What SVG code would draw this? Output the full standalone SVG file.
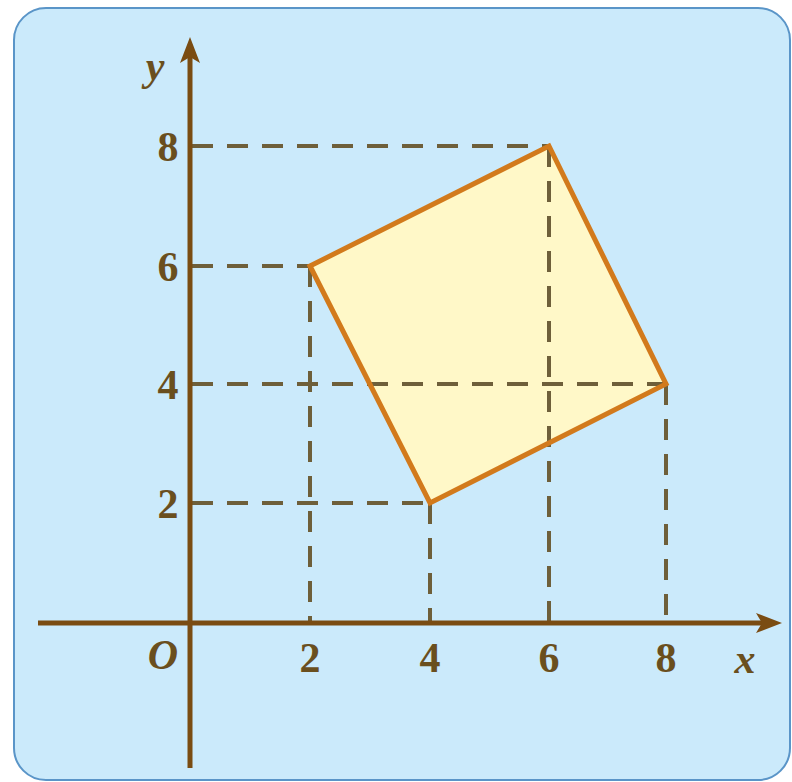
<svg xmlns="http://www.w3.org/2000/svg" width="792" height="782" viewBox="0 0 792 782">
<style>
.axis{stroke:#7a4c12;stroke-width:5;fill:none}
.dash{stroke:#6e5f3a;stroke-width:4;stroke-dasharray:21 14;fill:none}
.lbl{font-family:"Liberation Serif",serif;font-weight:bold;font-size:42px;fill:#6a4f1e;text-anchor:middle}
.it{font-family:"Liberation Serif",serif;font-style:italic;font-weight:bold;font-size:42px;fill:#6a4f1e;text-anchor:middle}
</style>
<rect x="0" y="0" width="792" height="782" fill="#ffffff"/>
<rect x="14" y="8" width="776" height="772" rx="32" fill="#cbeafb" stroke="#5a95c8" stroke-width="2"/>
<g id="square-fill">
<polygon points="310,266 549,146 666,384 430,503" fill="#fff8c8"/>
</g>
<g id="connectors">
<line class="dash" x1="192" y1="146" x2="549" y2="146"/>
<line class="dash" x1="192" y1="266" x2="310" y2="266"/>
<line class="dash" x1="192" y1="384" x2="666" y2="384"/>
<line class="dash" x1="192" y1="503" x2="430" y2="503"/>
<line class="dash" x1="310" y1="266" x2="310" y2="621"/>
<line class="dash" x1="430" y1="503" x2="430" y2="621"/>
<line class="dash" x1="549" y1="146" x2="549" y2="621"/>
<line class="dash" x1="666" y1="384" x2="666" y2="621"/>
</g>
<g id="square">
<polygon points="310,266 549,146 666,384 430,503" fill="none" stroke="#d27a1c" stroke-width="5" stroke-linejoin="miter"/>
</g>
<g id="x-axis">
<line class="axis" x1="38" y1="623" x2="765" y2="623"/>
<path d="M782,623 L756,613 L762,623 L756,633 Z" fill="#7a4c12"/>
</g>
<g id="y-axis">
<line class="axis" x1="190" y1="768" x2="190" y2="55"/>
<path d="M190,37 L180,63 L190,57 L200,63 Z" fill="#7a4c12"/>
</g>
<g id="labels">
<text class="it" x="155" y="80">y</text>
<text class="it" x="745" y="673">x</text>
<text class="it" x="163" y="669">O</text>
<text class="lbl" x="310" y="672">2</text>
<text class="lbl" x="430" y="672">4</text>
<text class="lbl" x="549" y="672">6</text>
<text class="lbl" x="666" y="672">8</text>
<text class="lbl" x="168" y="161">8</text>
<text class="lbl" x="168" y="281">6</text>
<text class="lbl" x="168" y="399">4</text>
<text class="lbl" x="168" y="518">2</text>
</g>
</svg>
